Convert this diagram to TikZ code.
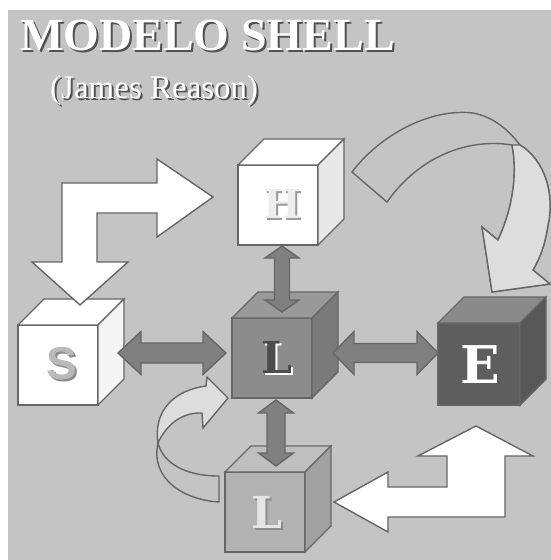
\documentclass[tikz,border=0pt]{standalone}
\usepackage{fontspec}
\setmainfont{Liberation Serif}
\newfontfamily\slabfont{DejaVu Serif}
\newfontfamily\sansfont{Liberation Sans}
\usetikzlibrary{calc}

\definecolor{bg}{HTML}{C4C4C4}
\definecolor{edgecol}{HTML}{666666}
\definecolor{darkarrow}{HTML}{808080}
\definecolor{lightpart}{HTML}{DDDDDD}

\tikzset{
  edge/.style={draw=edgecol, line width=1.4pt, line join=miter},
  face/.style={edge, rectangle, inner sep=0pt, outer sep=0pt},
  darrow/.style={edge, fill=darkarrow},
  warrow/.style={edge, fill=white},
  letter/.style={inner sep=0pt, anchor=center},
}

% cube: name, x, y (front top-left), size, front, top, side colours
\newcommand\shellcube[7]{%
  \node[face, fill=#5, minimum size=#4pt, anchor=north west] (#1) at (#2,#3) {};
  \draw[edge, fill=#6] (#1.north west) -- ++(26,-26) -- ++(#4,0) -- (#1.north east) -- cycle;
  \draw[edge, fill=#7] (#1.north east) -- ++(26,-26) -- ++(0,#4) -- (#1.south east) -- cycle;
}
% horizontal double arrow: x1, x2, y, shaft half, head half, head length
\newcommand\dblh[6]{%
  \draw[darrow] (#1,#3) -- (#1+#6,#3-#5) -- (#1+#6,#3-#4) -- (#2-#6,#3-#4)
    -- (#2-#6,#3-#5) -- (#2,#3) -- (#2-#6,#3+#5) -- (#2-#6,#3+#4)
    -- (#1+#6,#3+#4) -- (#1+#6,#3+#5) -- cycle;
}
% vertical double arrow: y1, y2, x, shaft half, head half, head length
\newcommand\dblv[6]{%
  \draw[darrow] (#3,#1) -- (#3+#5,#1+#6) -- (#3+#4,#1+#6) -- (#3+#4,#2-#6)
    -- (#3+#5,#2-#6) -- (#3,#2) -- (#3-#5,#2-#6) -- (#3-#4,#2-#6)
    -- (#3-#4,#1+#6) -- (#3-#5,#1+#6) -- cycle;
}

\begin{document}
\begin{tikzpicture}[x=1pt, y=-1pt]
  \useasboundingbox (0,0) rectangle (551,560);
  \fill[white] (0,0) rectangle (551,560);
  \fill[bg] (8,10) rectangle (551,560);

  % title
  \node[anchor=base west, inner sep=0pt, text=black!68] (titleshadow) at (22,52)
    {\fontsize{46}{46}\selectfont\bfseries MODELO SHELL};
  \node[anchor=base west, inner sep=0pt, text=white] (title) at (20,50)
    {\fontsize{46}{46}\selectfont\bfseries MODELO SHELL};
  \node[anchor=base west, inner sep=0pt, text=black!68] (subshadow) at (52,100)
    {\fontsize{33}{33}\selectfont (James Reason)};
  \node[anchor=base west, inner sep=0pt, text=white] (subtitle) at (50,98)
    {\fontsize{33}{33}\selectfont (James Reason)};

  % large curved arrow from H towards E
  \draw[edge, fill=bg]
    (352,172) .. controls (380,135) and (430,108) .. (473,113)
    .. controls (495,117) and (510,132) .. (520,145)
    .. controls (545,160) and (555,195) .. (548,225)
    .. controls (545,245) and (540,258) .. (533,270)
    -- (550,284) -- (492,292) -- (482,227) -- (498,240)
    .. controls (512,210) and (518,175) .. (512,145)
    .. controls (470,138) and (420,155) .. (387,202) -- cycle;
  \draw[edge, fill=lightpart]
    (512,145) -- (520,145)
    .. controls (545,160) and (555,195) .. (548,225)
    .. controls (545,245) and (540,258) .. (533,270)
    -- (550,284) -- (492,292) -- (482,227) -- (498,240)
    .. controls (512,210) and (518,175) .. (512,145) -- cycle;

  % cubes
  \shellcube{H}{238}{165}{80}{white}{white}{black!9}
  \shellcube{S}{18}{325}{80}{white}{white}{black!4}
  \shellcube{Lc}{232}{318}{80}{black!45}{black!40}{black!52}
  \shellcube{E}{438}{323}{82}{black!63}{black!46}{black!66}
  \shellcube{Lb}{225}{472}{80}{black!30}{black!25}{black!37}

  % cube letters
  \node[letter, text=black!40] at ($(H.center)+(6,1)$) {\fontsize{40}{40}\slabfont\bfseries H};
  \node[letter, text=black!7] (Hl) at ($(H.center)+(4,-1)$) {\fontsize{40}{40}\slabfont\bfseries H};
  \node[letter, text=black!45] at ($(S.center)+(6,1)$) {\fontsize{46}{46}\sansfont\bfseries S};
  \node[letter, text=black!27] (Sl) at ($(S.center)+(4,-1)$) {\fontsize{46}{46}\sansfont\bfseries S};
  \node[letter, text=white] at ($(Lc.center)+(7,1)$) {\fontsize{44}{44}\slabfont\bfseries L};
  \node[letter, text=black!70] (Lcl) at ($(Lc.center)+(5,-1)$) {\fontsize{44}{44}\slabfont\bfseries L};
  \node[letter, text=white] (El) at ($(E.center)+(1,1)$) {\fontsize{52}{52}\slabfont\bfseries E};
  \node[letter, text=black!45] at ($(Lb.center)+(4,2)$) {\fontsize{44}{44}\slabfont\bfseries L};
  \node[letter, text=black!10] (Lbl) at ($(Lb.center)+(2,0)$) {\fontsize{44}{44}\slabfont\bfseries L};

  % small looping arrow from the lower L back to the central L
  \draw[edge, fill=bg]
    (219,476) .. controls (185,476) and (163,463) .. (158,443)
    .. controls (150,480) and (185,500) .. (219,502) -- cycle;
  \draw[edge, fill=lightpart]
    (158,443) .. controls (153,410) and (175,390) .. (206,386)
    -- (207,377) -- (228,398) -- (203,428) -- (202,413)
    .. controls (182,412) and (166,425) .. (158,443) -- cycle;

  % white elbow arrows
  \draw[warrow] (213,197) -- (157,159) -- (157,183) -- (62,183) -- (62,262)
    -- (32,262) -- (80,305) -- (128,262) -- (97,262) -- (97,213)
    -- (157,213) -- (157,237) -- cycle;
  \draw[warrow] (334,502) -- (388,472) -- (388,487) -- (447,487) -- (447,456)
    -- (418,456) -- (476,426) -- (533,456) -- (505,456) -- (505,517)
    -- (388,517) -- (388,532) -- cycle;

  % double arrows between the central L and the others
  \dblv{246}{312}{282}{7.5}{17}{12}
  \dblv{400}{466}{276}{9}{17.5}{13}
  \dblh{118}{226}{353}{10}{21.5}{23}
  \dblh{333}{438}{353}{9.5}{21.5}{21}
\end{tikzpicture}
\end{document}
